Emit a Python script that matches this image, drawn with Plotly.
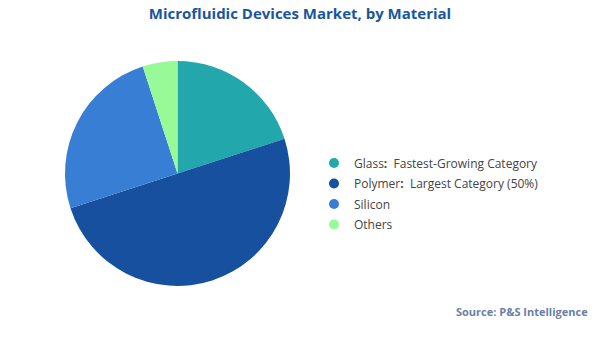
import plotly.graph_objects as go

categories = ["Glass", "Polymer", "Silicon", "Others"]
legend_labels = [
    "Glass<b>:</b>  Fastest-Growing Category",
    "Polymer<b>:</b>  Largest Category (50%)",
    "Silicon",
    "Others",
]
shares = [20, 50, 25, 5]
colors = ["#21A7AC", "#16509F", "#377ED4", "#97FA97"]

W, H = 600, 337
cx, cy, r = 177.5, 173.5, 112.5

fig = go.Figure()
fig.add_trace(go.Pie(
    labels=categories, values=shares, sort=False, direction="clockwise",
    marker=dict(colors=colors, line=dict(width=0)),
    textinfo="none", showlegend=False,
    domain=dict(x=[(cx - r) / W, (cx + r) / W], y=[(H - cy - r) / H, (H - cy + r) / H]),
))
for cat, lab, col in zip(categories, legend_labels, colors):
    fig.add_trace(go.Scatter(
        x=[None], y=[None], mode="markers", name=lab, legendgroup=cat,
        marker=dict(symbol="circle", size=10, color=col),
    ))

fig.update_layout(
    width=W, height=H, margin=dict(l=0, r=0, t=0, b=0),
    paper_bgcolor="white", plot_bgcolor="white",
    font=dict(family="Open Sans, Lato, sans-serif", size=12, color="#444444"),
    xaxis=dict(visible=False), yaxis=dict(visible=False),
    title=dict(text="<b>Microfluidic Devices Market, by Material</b>", x=0.5, xanchor="center",
               y=1 - 14 / H, yanchor="middle",
               font=dict(family="Open Sans, sans-serif", size=15, color="#1A56A0")),
    legend=dict(x=314 / W, xanchor="left", y=1 - 194 / H, yanchor="middle",
                font=dict(size=12, color="#444444"), tracegroupgap=1.5,
                bgcolor="rgba(0,0,0,0)"),
    annotations=[dict(text="<b>Source: P&S Intelligence</b>", xref="paper", yref="paper",
                      x=590 / W, xanchor="right", y=1 - 311 / H, yanchor="middle",
                      showarrow=False, font=dict(size=11, color="#6A7FA8"))],
)
fig.write_html("out.html")
